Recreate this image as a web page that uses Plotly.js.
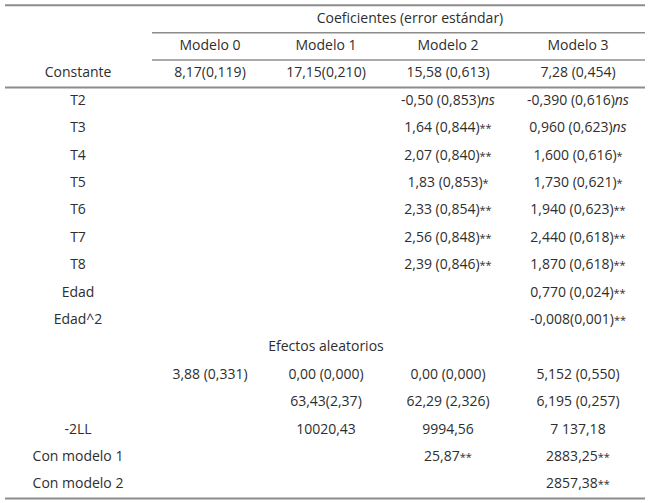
<!DOCTYPE html>
<html>
<head>
<meta charset="utf-8">
<script src="https://cdn.plot.ly/plotly-3.0.1.min.js"></script>
<style>
  html, body { margin: 0; padding: 0; background: #ffffff; }
  #chart { width: 650px; height: 503px; }
</style>
</head>
<body>
<div id="chart"></div>
<script>
// Tabla de coeficientes (error estándar) por modelo
const groupTitle = 'Coeficientes (error estándar)';
const models = ['Modelo 0', 'Modelo 1', 'Modelo 2', 'Modelo 3'];
const randomTitle = 'Efectos aleatorios';

const rowLabels = ['Constante', 'T2', 'T3', 'T4', 'T5', 'T6', 'T7', 'T8', 'Edad', 'Edad^2',
  '', '', '', '-2LL', 'Con modelo 1', 'Con modelo 2'];

const modelo0 = ['8,17(0,119)', '', '', '', '', '', '', '', '', '',
  '', '3,88 (0,331)', '', '', '', ''];
const modelo1 = ['17,15(0,210)', '', '', '', '', '', '', '', '', '',
  '', '0,00 (0,000)', '63,43(2,37)', '10020,43', '', ''];
const modelo2 = ['15,58 (0,613)', '-0,50 (0,853)ns', '1,64 (0,844)**', '2,07 (0,840)**',
  '1,83 (0,853)*', '2,33 (0,854)**', '2,56 (0,848)**', '2,39 (0,846)**', '', '',
  '', '0,00 (0,000)', '62,29 (2,326)', '9994,56', '25,87**', ''];
const modelo3 = ['7,28 (0,454)', '-0,390 (0,616)ns', '0,960 (0,623)ns', '1,600 (0,616)*',
  '1,730 (0,621)*', '1,940 (0,623)**', '2,440 (0,618)**', '1,870 (0,618)**', '0,770 (0,024)**', '-0,008(0,001)**',
  '', '5,152 (0,550)', '6,195 (0,257)', '7 137,18', '2883,25**', '2857,38**'];

// "ns" en cursiva, asteriscos pequeños
const fmt = s => s.replace(/ns$/, '<i>ns</i>')
  .replace(/(\*+)$/, '<span style="font-size:11px">$1</span>');

// layout: centro de cada columna (px) y primera fila del cuerpo
const colX = [78, 210, 326, 448, 578];
const groupX = 410;
const bodyStart = 2;          // filas 0 y 1 = cabeceras
const randomRow = bodyStart + 10;
const lineColor = '#8c8c8c';
const textColor = '#2e2e2e';
const font = { family: 'Open Sans, sans-serif', size: 14, color: textColor };

const bodyRows = rowLabels.map((_, i) => bodyStart + i);
const columns = [rowLabels, modelo0, modelo1, modelo2, modelo3];

const data = columns.map((col, c) => ({
  type: 'scatter', mode: 'text',
  x: col.map(() => colX[c]), y: bodyRows, text: col.map(fmt),
  textposition: 'middle center', textfont: font,
  hoverinfo: 'skip', showlegend: false, cliponaxis: false
}));
// cabeceras
data.push({
  type: 'scatter', mode: 'text',
  x: [groupX].concat(models.map((_, i) => colX[i + 1])).concat([colX[2]]),
  y: [0, 1, 1, 1, 1, randomRow],
  text: [groupTitle].concat(models).concat([randomTitle]),
  textposition: 'middle center', textfont: font,
  hoverinfo: 'skip', showlegend: false, cliponaxis: false
});

const lastRow = bodyStart + rowLabels.length - 1;
const hline = (y, x0, x1, w) => ({
  type: 'line', xref: 'x', yref: 'y', x0: x0, x1: x1, y0: y, y1: y,
  line: { color: lineColor, width: w }
});
const shapes = [
  hline(-0.5, 5, 645, 2),
  hline(0.5, 152, 645, 1.5),
  hline(1.5, 152, 645, 1.5),
  hline(bodyStart + 0.5, 5, 645, 2),
  hline(lastRow + 0.5, 5, 645, 2)
];

// 27.4 px por fila; fila 0 a 19 px del borde superior
const rowPx = 27.4, topPx = 19;
const layout = {
  width: 650, height: 503,
  margin: { l: 0, r: 0, t: 0, b: 0 },
  paper_bgcolor: '#ffffff', plot_bgcolor: '#ffffff',
  xaxis: { range: [0, 650], visible: false, fixedrange: true },
  yaxis: { range: [(503 - topPx) / rowPx, -topPx / rowPx], visible: false, fixedrange: true },
  shapes: shapes,
  font: font
};

Plotly.newPlot('chart', data, layout, { displayModeBar: false, staticPlot: true });
</script>
</body>
</html>
